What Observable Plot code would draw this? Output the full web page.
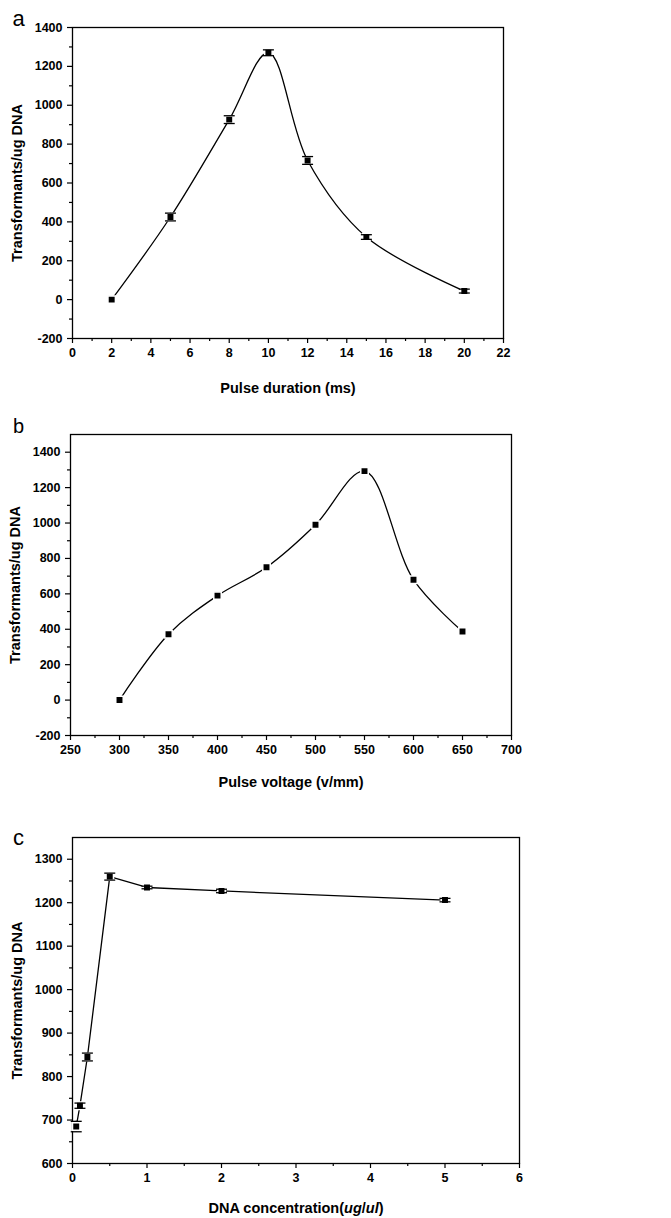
<!DOCTYPE html>
<html><head><meta charset="utf-8">
<script src="https://cdn.jsdelivr.net/npm/d3@7"></script>
<script src="https://cdn.jsdelivr.net/npm/@observablehq/plot@0.6"></script>
<style>
body{margin:0;background:#fff;}
#wrap{position:relative;width:671px;height:1218px;overflow:hidden;background:#fff;}
#wrap svg{position:absolute;left:0;}
</style></head><body><div id="wrap"></div>
<script>
// Panel a: pulse duration
const durationX = [2, 5, 8, 10, 12, 15, 20];
const durationY = [0, 425, 926, 1270, 716, 322, 44];
const durationErr = [0, 20, 20, 15, 20, 12, 10];
// Panel b: pulse voltage
const voltageX = [300, 350, 400, 450, 500, 550, 600, 650];
const voltageY = [0, 372, 590, 750, 990, 1293, 680, 387];
// Panel c: DNA concentration
const concX = [0.05, 0.1, 0.2, 0.5, 1, 2, 5];
const concY = [685, 733, 845, 1260, 1235, 1227, 1206];
const concErr = [12, 6, 9, 8, 3, 4, 4];

const yLabel = "Transformants/ug DNA";
const labelA = "Pulse duration (ms)";
const labelB = "Pulse voltage (v/mm)";
const labelC = "DNA concentration(ug/ul)";

const capSymbol = {draw(ctx) { ctx.moveTo(-5.5, 0); ctx.lineTo(5.5, 0); }};
const fmt = d => String(d);

function panel(cfg) {
  const data = cfg.xs.map((x, i) => ({x, y: cfg.ys[i], e: cfg.errs ? cfg.errs[i] : 0}));
  const marks = [
    Plot.frame({stroke: "black", strokeWidth: 1.3}),
    Plot.axisX({ticks: cfg.xTicks, tickFormat: fmt, tickSize: 5, tickPadding: 5, label: null, fontSize: 12.5, strokeWidth: 1.2}),
    Plot.axisX({ticks: cfg.xMinor, tickSize: 3, text: null, label: null, strokeWidth: 1.2}),
    Plot.axisY({ticks: cfg.yTicks, tickFormat: fmt, tickSize: 5, tickPadding: 5, label: null, fontSize: 12.5, strokeWidth: 1.2}),
    Plot.axisY({ticks: cfg.yMinor, tickSize: 3, text: null, label: null, strokeWidth: 1.2}),
    Plot.line(data, {x: "x", y: "y", curve: cfg.curve, stroke: "black", strokeWidth: 1.3})
  ];
  if (cfg.errs) {
    marks.push(Plot.ruleX(data, {x: "x", y1: d => d.y - d.e, y2: d => d.y + d.e, stroke: "black", strokeWidth: 1.2}));
  }
  marks.push(Plot.dot(data, {x: "x", y: "y", symbol: "square", r: 4.2, fill: "black", stroke: "white", strokeWidth: 1.5}));
  if (cfg.errs) {
    const caps = data.filter(d => d.e > 0);
    marks.push(Plot.dot(caps, {x: "x", y: d => d.y + d.e, symbol: capSymbol, stroke: "black", fill: "none", strokeWidth: 1.3}));
    marks.push(Plot.dot(caps, {x: "x", y: d => d.y - d.e, symbol: capSymbol, stroke: "black", fill: "none", strokeWidth: 1.3}));
  }
  marks.push(Plot.text([cfg.xLabel], {frameAnchor: "bottom", dy: cfg.xLabelDy, textAnchor: "middle", lineAnchor: "middle", fontSize: 14.5, fontWeight: "bold", fill: "black"}));
  marks.push(Plot.text([yLabel], {frameAnchor: "left", dx: -55, rotate: -90, textAnchor: "middle", lineAnchor: "middle", fontSize: 14.5, fontWeight: "bold", fill: "black"}));
  marks.push(Plot.text([cfg.letter], {frameAnchor: "top-left", dx: cfg.letterDx, dy: cfg.letterDy, textAnchor: "middle", lineAnchor: "middle", fontSize: cfg.letterSize, fontWeight: "normal", fill: "black"}));
  const svg = Plot.plot({
    width: 671, height: cfg.height,
    marginTop: cfg.m[0], marginRight: cfg.m[1], marginBottom: cfg.m[2], marginLeft: cfg.m[3],
    x: {domain: cfg.xDomain},
    y: {domain: cfg.yDomain},
    style: {fontFamily: "'Liberation Sans', Arial, sans-serif", fontWeight: "bold", color: "black", background: "white", overflow: "visible"},
    marks
  });
  svg.style.top = cfg.top + "px";
  document.getElementById("wrap").appendChild(svg);
  return svg;
}

panel({
  top: 0, height: 400, m: [27, 168, 62, 72],
  xs: durationX, ys: durationY, errs: durationErr,
  xDomain: [0, 22], xTicks: d3.range(0, 23, 2), xMinor: d3.range(1, 22, 2),
  yDomain: [-200, 1400], yTicks: d3.range(-200, 1401, 200), yMinor: d3.range(-100, 1400, 200),
  curve: "catmull-rom", xLabel: labelA, xLabelDy: 50,
  letter: "a", letterDx: -54, letterDy: -9, letterSize: 22
});
panel({
  top: 400, height: 400, m: [34, 160, 65, 70],
  xs: voltageX, ys: voltageY, errs: null,
  xDomain: [250, 700], xTicks: d3.range(250, 701, 50), xMinor: d3.range(275, 700, 50),
  yDomain: [-200, 1500], yTicks: d3.range(-200, 1401, 200), yMinor: d3.range(-100, 1400, 200),
  curve: "catmull-rom", xLabel: labelB, xLabelDy: 47,
  letter: "b", letterDx: -52, letterDy: -8, letterSize: 20
});
const svgC = panel({
  top: 800, height: 418, m: [37, 152, 55, 72],
  xs: concX, ys: concY, errs: concErr,
  xDomain: [0, 6], xTicks: d3.range(0, 7, 1), xMinor: d3.range(0.5, 6, 1),
  yDomain: [600, 1350], yTicks: d3.range(600, 1301, 100), yMinor: d3.range(650, 1300, 100),
  curve: "linear", xLabel: labelC, xLabelDy: 45,
  letter: "c", letterDx: -54, letterDy: 0, letterSize: 22
});
// italicize units in panel c's x label
d3.select(svgC).selectAll("text").filter(function() { return this.textContent === labelC; }).each(function() {
  const t = d3.select(this);
  t.text(null);
  t.append("tspan").text("DNA concentration(");
  t.append("tspan").attr("font-style", "italic").text("ug");
  t.append("tspan").text("/");
  t.append("tspan").attr("font-style", "italic").text("ul");
  t.append("tspan").text(")");
});
</script></body></html>
